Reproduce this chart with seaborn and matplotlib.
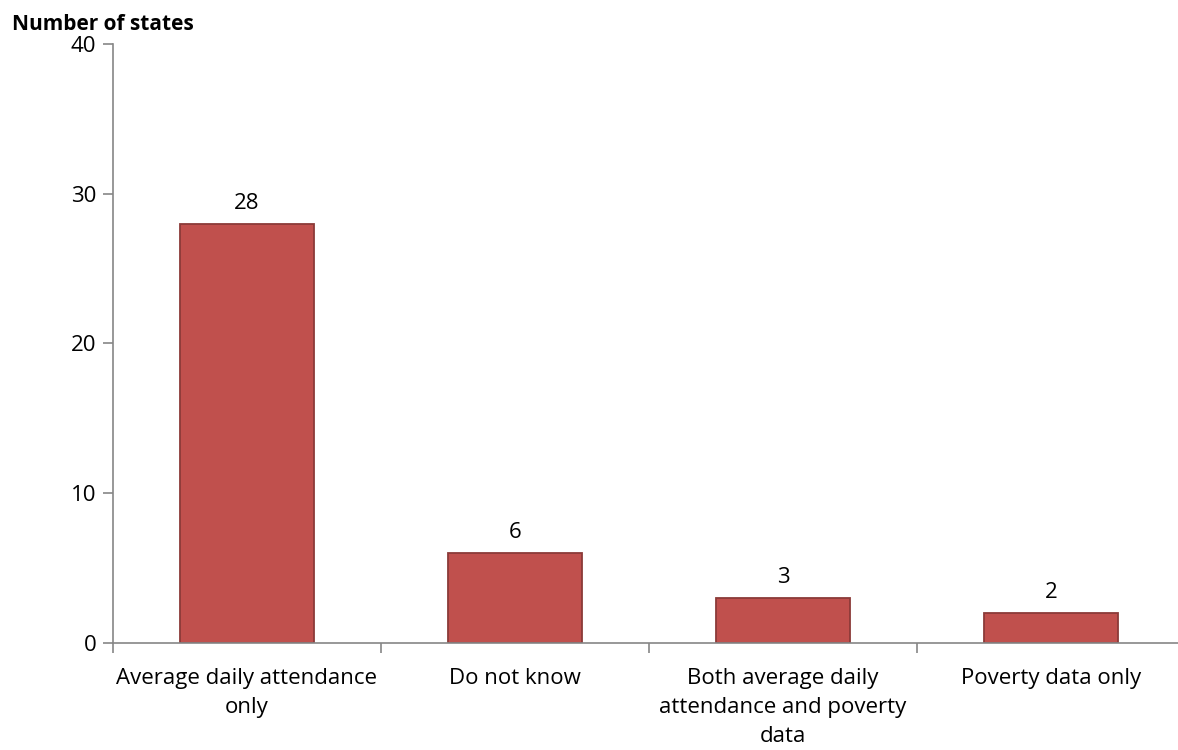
import matplotlib
matplotlib.use("Agg")
import matplotlib.pyplot as plt
import seaborn as sns
import pandas as pd
from matplotlib.ticker import FixedLocator

categories = [
    "Average daily attendance\nonly",
    "Do not know",
    "Both average daily\nattendance and poverty\ndata",
    "Poverty data only",
]
states = [28, 6, 3, 2]
y_ticks = [0, 10, 20, 30, 40]

df = pd.DataFrame({"category": categories, "states": states})

sns.set_theme(style="white")
plt.rcParams["font.family"] = ["Open Sans", "DejaVu Sans"]

fig = plt.figure(figsize=(11.78, 7.5), dpi=100)
ax = fig.add_axes([0.0959, 0.1427, 0.910, 0.7987])

sns.barplot(data=df, x="category", y="states", ax=ax, width=0.5,
            color="#C0504D", edgecolor="#8B3A38", linewidth=1.3,
            saturation=1)

ax.set_xlim(-0.5, len(categories) - 0.5)
ax.set_ylim(0, 40)
ax.set_yticks(y_ticks)
ax.set_xlabel("")
ax.set_ylabel("")

for i, v in enumerate(states):
    ax.annotate(str(v), xy=(i, v), xytext=(0, 7), textcoords="offset points",
                ha="center", va="bottom", fontsize=16, color="#000000")

for side in ("top", "right"):
    ax.spines[side].set_visible(False)
for side in ("left", "bottom"):
    ax.spines[side].set_color("#868686")
    ax.spines[side].set_linewidth(1.2)

ax.tick_params(axis="y", which="major", left=True, length=7, width=1.2,
               color="#868686", labelsize=16, labelcolor="#000000", pad=5)
ax.tick_params(axis="x", which="major", bottom=False, length=0,
               labelsize=16, labelcolor="#000000", pad=18)
ax.xaxis.set_minor_locator(FixedLocator([-0.5, 0.5, 1.5, 2.5, 3.5]))
ax.tick_params(axis="x", which="minor", bottom=True, length=7, width=1.2,
               color="#868686")
for lbl in ax.get_xticklabels():
    lbl.set_linespacing(1.5)

fig.text(0.010, 0.982, "Number of states", fontsize=15, fontweight="bold",
         ha="left", va="top", color="#000000")

fig.savefig("out.png", dpi=100, facecolor="white")
